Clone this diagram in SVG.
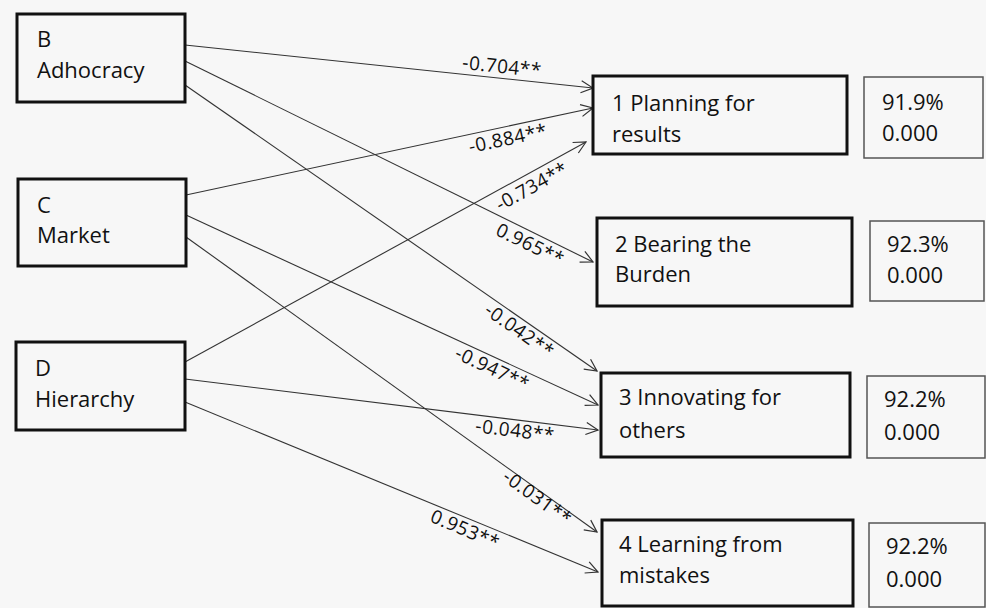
<svg xmlns="http://www.w3.org/2000/svg" width="986" height="608" viewBox="0 0 986 608">
<defs>
<marker id="arr" viewBox="0 0 14 14" refX="13" refY="7" markerWidth="14" markerHeight="14" markerUnits="userSpaceOnUse" orient="auto">
<path d="M1,1 L13,7 L1,13" fill="none" stroke="#333" stroke-width="1.2"/>
</marker>
<style>
.node{fill:none;stroke:#111;stroke-width:3}
.val{fill:none;stroke:#555;stroke-width:1.5}
.t{font-family:"Open Sans","Noto Sans","Liberation Sans",sans-serif;font-size:22px;fill:#111}
.c{fill:none;stroke:#333;stroke-width:1.1;marker-end:url(#arr)}
.l{font-family:"Open Sans","Noto Sans","Liberation Sans",sans-serif;font-size:19px;letter-spacing:0.5px;fill:#111;text-anchor:middle}
</style>
</defs>
<rect x="0" y="0" width="986" height="608" fill="#f7f7f7"/>
<g id="connectors">
<line class="c" x1="185" y1="45" x2="593" y2="88"/>
<line class="c" x1="186" y1="195" x2="593" y2="108"/>
<line class="c" x1="185" y1="362" x2="586" y2="142"/>
<line class="c" x1="185" y1="61" x2="593" y2="262"/>
<line class="c" x1="185" y1="85" x2="597" y2="371"/>
<line class="c" x1="186" y1="215" x2="598" y2="405"/>
<line class="c" x1="185" y1="379" x2="598" y2="430"/>
<line class="c" x1="186" y1="237" x2="597" y2="532"/>
<line class="c" x1="185" y1="402" x2="598" y2="572"/>
<text class="l" transform="translate(502,67) rotate(6)" y="6">-0.704**</text>
<text class="l" transform="translate(508,139) rotate(-12)" y="6">-0.884**</text>
<text class="l" transform="translate(532,187) rotate(-29)" y="6">-0.734**</text>
<text class="l" transform="translate(530,245) rotate(26)" y="6">0.965**</text>
<text class="l" transform="translate(519,331) rotate(35)" y="6">-0.042**</text>
<text class="l" transform="translate(492,369) rotate(25)" y="6">-0.947**</text>
<text class="l" transform="translate(515,431) rotate(7)" y="6">-0.048**</text>
<text class="l" transform="translate(537,498) rotate(36)" y="6">-0.031**</text>
<text class="l" transform="translate(465,530) rotate(23)" y="6">0.953**</text>
</g>
<g id="nodeB">
<rect class="node" x="17" y="14" width="168" height="88"/>
<text class="t" x="37" y="47">B</text>
<text class="t" x="37" y="78">Adhocracy</text>
</g>
<g id="nodeC">
<rect class="node" x="18" y="179" width="168" height="87"/>
<text class="t" x="37" y="213">C</text>
<text class="t" x="37" y="243">Market</text>
</g>
<g id="nodeD">
<rect class="node" x="16" y="342" width="169" height="88"/>
<text class="t" x="35" y="376">D</text>
<text class="t" x="35" y="407">Hierarchy</text>
</g>
<g id="node1">
<rect class="node" x="593" y="76" width="254" height="78"/>
<text class="t" x="612" y="111">1 Planning for</text>
<text class="t" x="612" y="142">results</text>
</g>
<g id="val1">
<rect class="val" x="864" y="77" width="119" height="81"/>
<text class="t" x="882" y="110">91.9%</text>
<text class="t" x="882" y="141">0.000</text>
</g>
<g id="node2">
<rect class="node" x="597" y="218" width="255" height="88"/>
<text class="t" x="615" y="252">2 Bearing the</text>
<text class="t" x="615" y="282">Burden</text>
</g>
<g id="val2">
<rect class="val" x="870" y="221" width="114" height="80"/>
<text class="t" x="887" y="252">92.3%</text>
<text class="t" x="887" y="283">0.000</text>
</g>
<g id="node3">
<rect class="node" x="601" y="373" width="249" height="84"/>
<text class="t" x="619" y="405">3 Innovating for</text>
<text class="t" x="619" y="438">others</text>
</g>
<g id="val3">
<rect class="val" x="867" y="376" width="118" height="82"/>
<text class="t" x="884" y="407">92.2%</text>
<text class="t" x="884" y="440">0.000</text>
</g>
<g id="node4">
<rect class="node" x="602" y="520" width="251" height="86"/>
<text class="t" x="619" y="552">4 Learning from</text>
<text class="t" x="619" y="583">mistakes</text>
</g>
<g id="val4">
<rect class="val" x="869" y="523" width="116" height="84"/>
<text class="t" x="886" y="554">92.2%</text>
<text class="t" x="886" y="587">0.000</text>
</g>
</svg>
